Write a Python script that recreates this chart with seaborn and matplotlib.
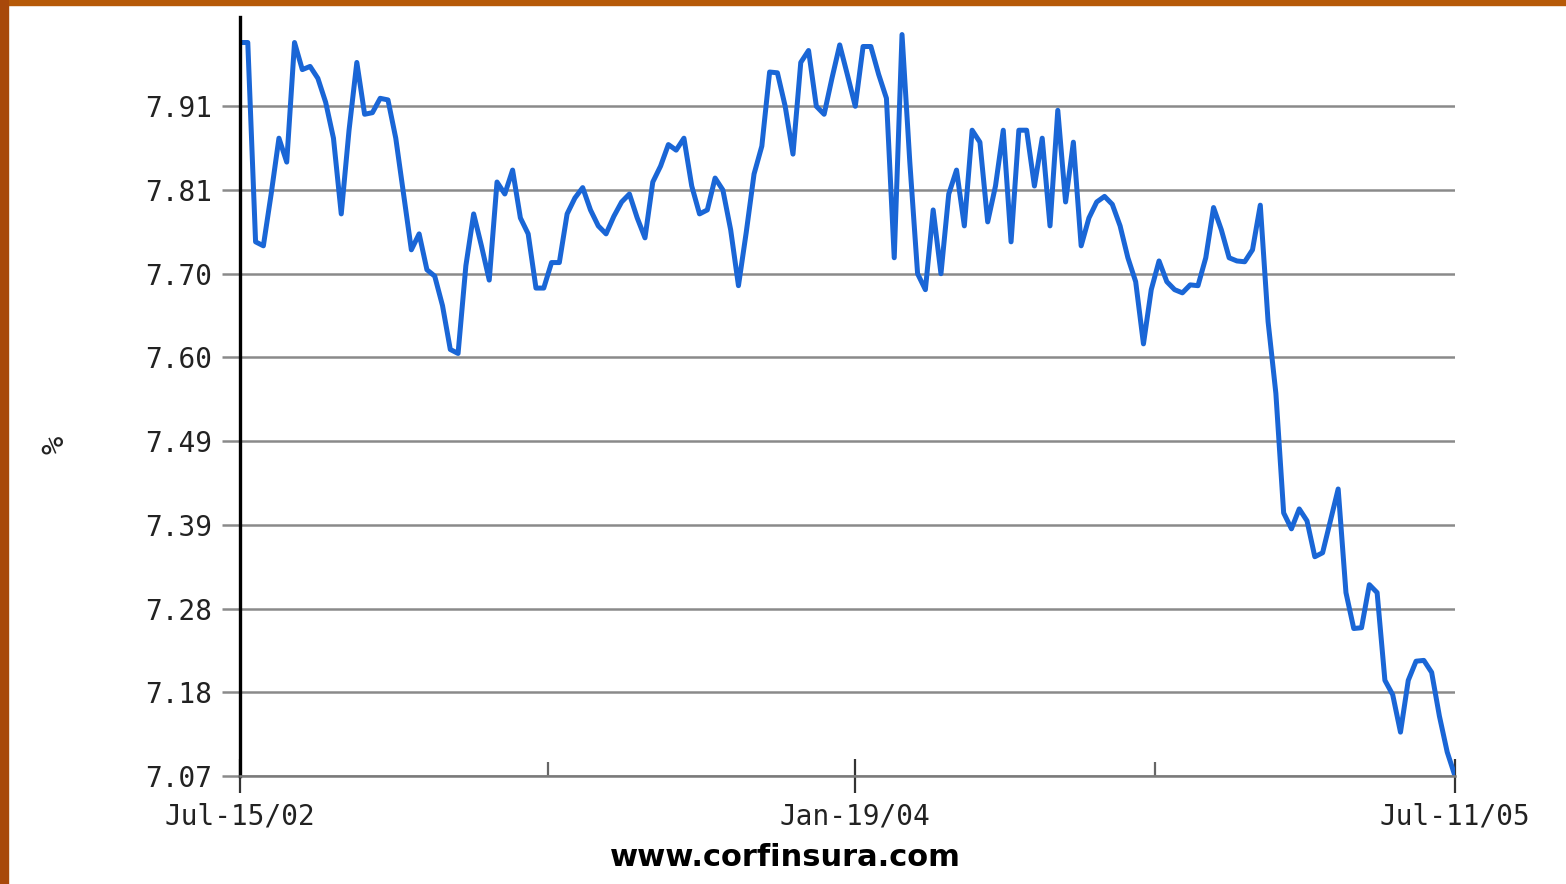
import numpy as np
import pandas as pd
import seaborn as sns
import matplotlib.pyplot as plt
import matplotlib.dates as mdates
from matplotlib.patches import Rectangle

# weekly yield readings, Jul-15/02 .. Jul-11/05
dates = pd.date_range("2002-07-15", "2005-07-11", freq="7D")
rates = [
    7.99, 7.99, 7.74, 7.735, 7.80, 7.87, 7.84, 7.99, 7.956, 7.96,
    7.945, 7.915, 7.87, 7.775, 7.88, 7.965, 7.90, 7.902, 7.92, 7.918,
    7.87, 7.80, 7.73, 7.75, 7.705, 7.697, 7.66, 7.605, 7.60, 7.71,
    7.775, 7.735, 7.692, 7.815, 7.80, 7.83, 7.77, 7.75, 7.682, 7.682,
    7.714, 7.714, 7.775, 7.795, 7.808, 7.78, 7.76, 7.75, 7.772, 7.79,
    7.80, 7.77, 7.745, 7.815, 7.835, 7.862, 7.855, 7.87, 7.81, 7.775,
    7.78, 7.82, 7.805, 7.755, 7.685, 7.752, 7.825, 7.86, 7.953, 7.952,
    7.91, 7.85, 7.965, 7.98, 7.91, 7.90, 7.945, 7.987, 7.949, 7.91,
    7.985, 7.985, 7.95, 7.92, 7.72, 8.0, 7.84, 7.70, 7.68, 7.78,
    7.70, 7.80, 7.83, 7.76, 7.88, 7.865, 7.765, 7.81, 7.88, 7.74,
    7.88, 7.88, 7.81, 7.87, 7.76, 7.905, 7.79, 7.865, 7.735, 7.77,
    7.79, 7.797, 7.787, 7.76, 7.72, 7.69, 7.612, 7.68, 7.716, 7.69,
    7.68, 7.676, 7.686, 7.685, 7.72, 7.783, 7.755, 7.72, 7.716, 7.715,
    7.73, 7.786, 7.64, 7.55, 7.40, 7.38, 7.405, 7.39, 7.345, 7.35,
    7.39, 7.43, 7.30, 7.255, 7.256, 7.31, 7.30, 7.19, 7.172, 7.125,
    7.19, 7.214, 7.215, 7.20, 7.145, 7.10, 7.07,
]

ytick_vals = np.linspace(7.07, 7.91, 9)
ytick_labels = ["7.07", "7.18", "7.28", "7.39", "7.49", "7.60", "7.70", "7.81", "7.91"]
xtick_dates = pd.to_datetime(["2002-07-15", "2004-01-19", "2005-07-11"])
xtick_labels = ["Jul-15/02", "Jan-19/04", "Jul-11/05"]
source = "www.corfinsura.com"

df = pd.DataFrame({"date": dates, "rate": rates})

sns.set_style("white")
plt.rcParams["font.family"] = ["DejaVu Sans Mono", "DejaVu Sans"]

W, H = 1566, 884
fig = plt.figure(figsize=(W / 100, H / 100), dpi=100)
fig.patch.set_facecolor("white")

# orange slide frame peeking in on top and left
fig.patches.append(Rectangle((0, 1 - 5 / H), 1, 5 / H, transform=fig.transFigure,
                             color="#b65a08", zorder=0))
fig.patches.append(Rectangle((0, 0), 8 / W, 1, transform=fig.transFigure,
                             color="#a8480a", zorder=0))

ax = fig.add_axes([240 / W, 1 - 776 / H, (1455 - 240) / W, (776 - 17) / H])
sns.lineplot(data=df, x="date", y="rate", ax=ax, color="#1a66d6", lw=3.6)

ax.set_ylim(7.07, 8.022)
ax.set_xlim(dates[0], dates[-1])

ax.set_yticks(ytick_vals)
ax.set_yticklabels(ytick_labels, fontsize=20, color="#222222")
ax.tick_params(axis="y", length=13, width=1.8, color="#8a8a8a", pad=7, left=True)

xnum = mdates.date2num(xtick_dates)
ax.set_xticks(xnum)
ax.set_xticklabels(xtick_labels, fontsize=20, color="#222222")
ax.set_xticks((xnum[:-1] + xnum[1:]) / 2, minor=True)
ax.tick_params(axis="x", which="major", direction="inout", length=24, width=1.6,
               color="#333333", pad=7, bottom=True)
ax.tick_params(axis="x", which="minor", direction="in", length=10, width=1.6,
               color="#666666", bottom=True)

ax.grid(axis="y", color="#8a8a8a", lw=1.8)
ax.grid(axis="x", visible=False)
ax.set_axisbelow(True)

for s in ["top", "right"]:
    ax.spines[s].set_visible(False)
ax.spines["left"].set_color("black")
ax.spines["left"].set_linewidth(2.4)
ax.spines["bottom"].set_color("#7a7a7a")
ax.spines["bottom"].set_linewidth(1.8)

ax.set_xlabel("")
ax.set_ylabel("")
fig.text(55 / W, 1 - 445 / H, "%", rotation=90, fontsize=22, color="#222222",
         ha="center", va="center")
fig.text(785 / W, 1 - 858 / H, source, fontsize=22, fontweight="bold",
         family="DejaVu Sans", color="black", ha="center", va="center")

fig.savefig("out.png", dpi=100, facecolor=fig.get_facecolor())
